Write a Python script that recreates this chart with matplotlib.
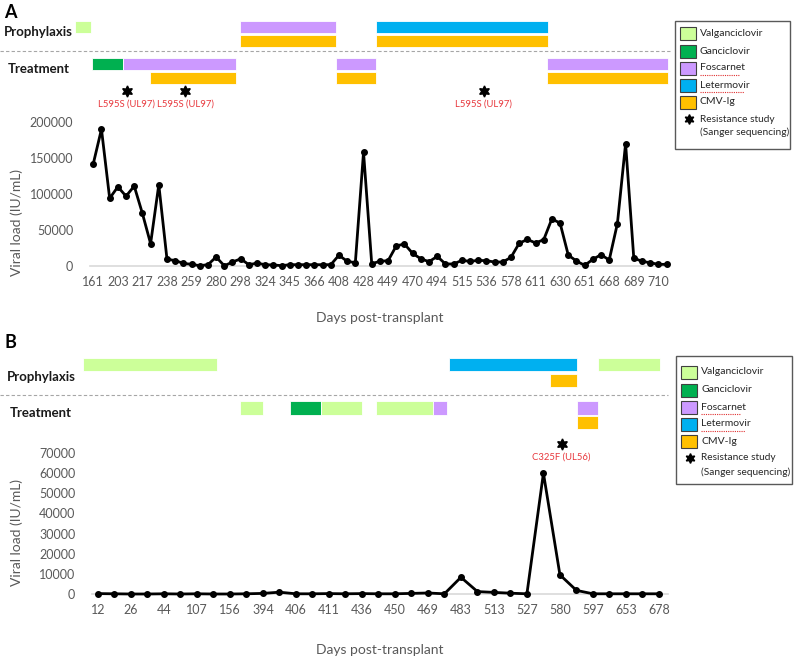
import numpy as np
import matplotlib.pyplot as plt
from matplotlib.patches import Rectangle

plt.rcParams['font.family'] = ['Lato', 'DejaVu Sans']

# ---------------- data ----------------
drugs = ['Valganciclovir', 'Ganciclovir', 'Foscarnet', 'Letermovir', 'CMV-Ig']
drug_colors = ['#ccff99', '#00b050', '#cc99ff', '#00b0f0', '#ffc000']

# panel A: viral load, one value per sample (categorical axis)
a_values = [142000, 190000, 94000, 110000, 97000, 111000, 73000, 31000, 113000, 9500,
            7500, 3700, 2300, 500, 1800, 12500, 300, 5500, 10000, 1800,
            4000, 1800, 1400, 500, 1800, 1800, 1800, 1800, 1800, 1800,
            15000, 6500, 4600, 158000, 3200, 6500, 7400, 28000, 30500, 17500,
            10000, 6000, 13400, 2800, 2800, 7800, 6500, 7800, 7400, 5500,
            5500, 12000, 31400, 37000, 32000, 36500, 65500, 59500, 15200, 6900,
            900, 9200, 15700, 8300, 59000, 170000, 11000, 6500, 4600, 2300, 2300]
a_ticklabels = ['161', '203', '217', '238', '259', '280', '298', '324', '345', '366', '408', '428',
                '449', '470', '494', '515', '536', '578', '611', '630', '651', '668', '689', '710']
a_tick_step = 3

# (section, drug, start, end) in sample positions
a_bars = [('Prophylaxis', 'Valganciclovir', -2.2, -0.3),
          ('Prophylaxis', 'Foscarnet', 17.9, 29.6),
          ('Prophylaxis', 'CMV-Ig', 17.9, 29.6),
          ('Prophylaxis', 'Letermovir', 34.5, 55.5),
          ('Prophylaxis', 'CMV-Ig', 34.5, 55.5),
          ('Treatment', 'Ganciclovir', -0.15, 3.65),
          ('Treatment', 'Foscarnet', 3.65, 17.4),
          ('Treatment', 'CMV-Ig', 6.9, 17.4),
          ('Treatment', 'Foscarnet', 29.6, 34.5),
          ('Treatment', 'CMV-Ig', 29.6, 34.5),
          ('Treatment', 'Foscarnet', 55.4, 70.2),
          ('Treatment', 'CMV-Ig', 55.4, 70.2)]
a_resistance_pos = [4.1, 11.2, 47.7]
a_resistance_labels = ['L595S (UL97)', 'L595S (UL97)', 'L595S (UL97)']

# panel B
b_values = [200, 100, 0, 0, 100, 0, 100, 0, 0, 100,
            300, 900, 100, 100, 200, 100, 200, 100, 100, 300,
            500, 100, 8300, 1200, 800, 400, 100, 60000, 9500, 1800,
            100, 100, 100, 100, 100]
b_ticklabels = ['12', '26', '44', '107', '156', '394', '406', '411', '436',
                '450', '469', '483', '513', '527', '580', '597', '653', '678']
b_tick_step = 2

b_bars = [('Prophylaxis', 'Valganciclovir', -0.9, 7.2),
          ('Prophylaxis', 'Letermovir', 21.25, 29.05),
          ('Prophylaxis', 'CMV-Ig', 27.4, 29.05),
          ('Prophylaxis', 'Valganciclovir', 30.3, 34.05),
          ('Treatment', 'Valganciclovir', 8.6, 10.0),
          ('Treatment', 'Ganciclovir', 11.65, 13.5),
          ('Treatment', 'Valganciclovir', 13.5, 16.0),
          ('Treatment', 'Valganciclovir', 16.85, 20.3),
          ('Treatment', 'Foscarnet', 20.3, 21.15),
          ('Treatment', 'Foscarnet', 29.05, 30.3),
          ('Treatment', 'CMV-Ig', 29.05, 30.3)]
b_resistance_pos = [28.1]
b_resistance_labels = ['C325F (UL56)']

# ---------------- figure ----------------
W, H = 794, 659
fig = plt.figure(figsize=(W / 100, H / 100), dpi=100)
over = fig.add_axes([0, 0, 1, 1])
over.set_xlim(0, W)
over.set_ylim(H, 0)
over.axis('off')

grey = '#595959'
color_of = dict(zip(drugs, drug_colors))


def rect(x0, x1, ytop, ybot):
    # px box -> figure fraction
    return [x0 / W, 1 - ybot / H, (x1 - x0) / W, (ybot - ytop) / H]


def viral_panel(values, ticklabels, step, xlim, box, ymax, yticks):
    ax = fig.add_axes(rect(*box))
    x = np.arange(len(values))
    ax.plot(x, values, color='black', lw=2.0, marker='o', ms=4, clip_on=False, zorder=3)
    ax.set_xlim(*xlim)
    ax.set_ylim(0, ymax)
    ax.set_yticks(yticks)
    ax.set_yticklabels([str(t) for t in yticks])
    ax.set_xticks(x[::step])
    ax.set_xticklabels(ticklabels)
    for s in ['top', 'right', 'left']:
        ax.spines[s].set_visible(False)
    ax.spines['bottom'].set_color('#d9d9d9')
    ax.spines['bottom'].set_linewidth(1.2)
    ax.tick_params(length=0, labelsize=9, labelcolor=grey)
    ax.tick_params(axis='y', pad=12)
    ax.tick_params(axis='x', pad=7)
    return ax


def bar_panel(ax_line, xpx, bars, ybox, lanes, star_pos, star_labels, star_y, label_y):
    ax = fig.add_axes(rect(xpx[0], xpx[1], ybox[0], ybox[1]), sharex=ax_line)
    ax.set_ylim(ybox[1], ybox[0])
    ax.axis('off')
    for section, drug, x0, x1 in bars:
        row = 1 if drug == 'CMV-Ig' else 0
        ytop, h = lanes[section][row]
        ax.broken_barh([(x0, x1 - x0)], (ytop, h), facecolor=color_of[drug],
                       edgecolor='white', lw=0.6, clip_on=False)
    for p, lab in zip(star_pos, star_labels):
        ax.plot(p, star_y, marker=(6, 1, 0), ms=8, color='black', clip_on=False)
        ax.text(p, label_y, lab, color='#e8383d', fontsize=6.8, ha='center', va='center')
    return ax


def legend(x0, x1, ytop, ybot, rows_y, res_y):
    over.add_patch(Rectangle((x0, ytop), x1 - x0, ybot - ytop, facecolor='white',
                             edgecolor='#595959', lw=1.0))
    for drug, c, y in zip(drugs, drug_colors, rows_y):
        over.add_patch(Rectangle((x0 + 5, y - 6.5), 16, 13, facecolor=c,
                                 edgecolor='#404040', lw=0.8))
        over.text(x0 + 25, y, drug, fontsize=7.5, color='#262626', va='center')
        if drug in ('Foscarnet', 'Letermovir'):
            over.plot([x0 + 25, x0 + 25 + (40 if drug == 'Foscarnet' else 44)],
                      [y + 7, y + 7], color='#e03030', lw=0.8, ls=(0, (1, 1)))
    over.plot(x0 + 14, res_y[0], marker=(6, 1, 0), ms=7, color='black')
    over.text(x0 + 25, res_y[0], 'Resistance study', fontsize=7.3, color='#262626', va='center')
    over.text(x0 + 25, res_y[1], '(Sanger sequencing)', fontsize=7.3, color='#262626', va='center')


# ---- panel A ----
xA = (90, 669)
axA = viral_panel(a_values, a_ticklabels, a_tick_step, (-0.4, 70.3),
                  (xA[0], xA[1], 122, 266), 200000, [0, 50000, 100000, 150000, 200000])
lanesA = {'Prophylaxis': [(21, 12), (35, 11.5)], 'Treatment': [(58, 12), (72, 11.5)]}
bar_panel(axA, xA, a_bars, (0, 115), lanesA, a_resistance_pos, a_resistance_labels, 91, 104)

# ---- panel B ----
xB = (92, 668)
axB = viral_panel(b_values, b_ticklabels, b_tick_step, (-0.36, 34.55),
                  (xB[0], xB[1], 453, 594), 70000, list(range(0, 70001, 10000)))
lanesB = {'Prophylaxis': [(358, 13), (374, 13)], 'Treatment': [(401, 14), (416, 13)]}
bar_panel(axB, xB, b_bars, (330, 470), lanesB, b_resistance_pos, b_resistance_labels, 444, 457)

# ---- labels, separators, legends ----
over.text(4, 12, 'A', fontsize=13, fontweight='bold', va='center')
over.text(4, 342, 'B', fontsize=13, fontweight='bold', va='center')
for y, txt, x in [(32, 'Prophylaxis', 4), (69, 'Treatment', 8),
                  (377, 'Prophylaxis', 7), (413, 'Treatment', 10)]:
    over.text(x, y, txt, fontsize=9.5, fontweight='bold', va='center', color='#1a1a1a')
over.plot([0, 672], [51, 51], color='#a6a6a6', lw=0.8, ls=(0, (3, 2)))
over.plot([0, 668], [395, 395], color='#a6a6a6', lw=0.8, ls=(0, (3, 2)))

for yc in [318, 650]:
    over.text(380, yc, 'Days post-transplant', fontsize=10, color=grey, ha='center', va='center')
for yc in [222, 533]:
    over.text(17, yc, 'Viral load (IU/mL)', fontsize=10, color=grey, ha='center',
              va='center', rotation=90)

legend(675, 790, 21, 149, [33, 51, 68, 85, 102], [119, 132])
legend(676, 792, 356, 484, [372, 390, 407, 424, 441], [458, 472])

fig.savefig('out.png', dpi=100)
